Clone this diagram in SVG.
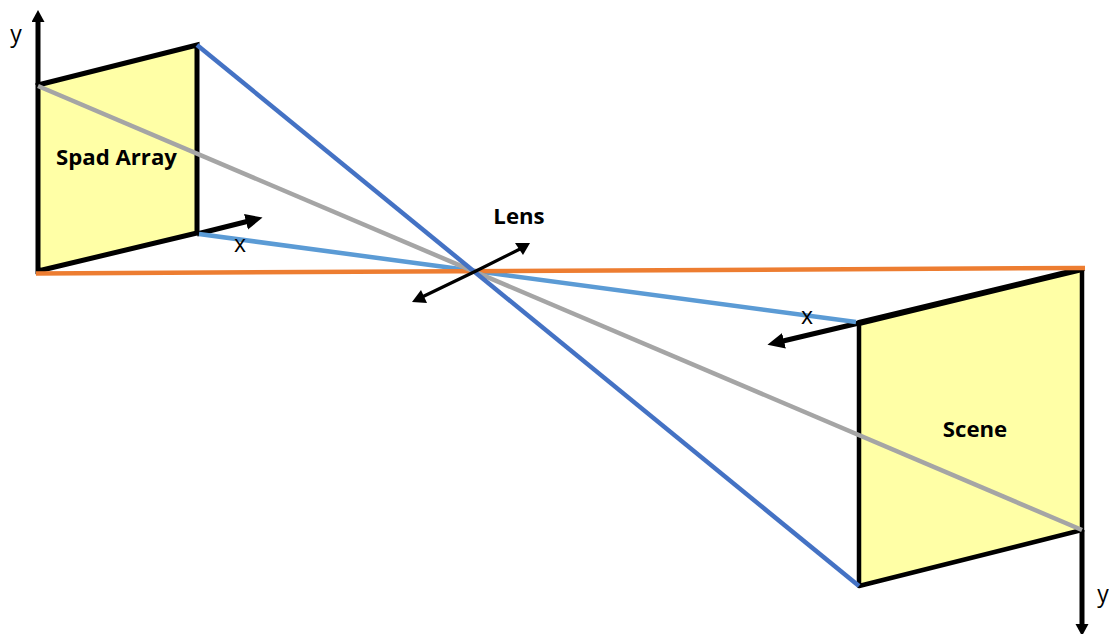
<svg xmlns="http://www.w3.org/2000/svg" width="1109" height="634" viewBox="0 0 1109 634">
<style>
.panel{fill:#ffffa6;stroke:none}
.edge{stroke:#000;fill:none;stroke-linecap:round}
.ray{fill:none;stroke-linecap:butt;stroke-width:4.5}
.axis{stroke:#000;fill:none;stroke-width:5}
.head{fill:#000;stroke:none}
.lab{font-family:"Open Sans","Liberation Sans",sans-serif;font-size:23px;fill:#000}
.b{font-weight:700;font-size:22.2px}
</style>
<defs>
<marker id="a" markerUnits="userSpaceOnUse" markerWidth="20" markerHeight="18" refX="1" refY="8" orient="auto"><path d="M0 0L17 8L0 16Z" fill="#000"/></marker>
<marker id="t" markerUnits="userSpaceOnUse" markerWidth="15" markerHeight="15" refX="1" refY="6.500" orient="auto"><path d="M0 0L12 6.500L0 13Z" fill="#000"/></marker>
</defs>
<g id="spad-array">
<polygon class="panel" points="38,85 197,45 197,233 38,271"/>
<path class="edge" stroke-width="5" d="M38 85L197 45L197 233L38 271Z"/>
<text class="lab b" x="116.500" y="165" text-anchor="middle">Spad Array</text>
</g>
<g id="scene">
<polygon class="panel" points="859,323 1082,269 1082,530 859,586"/>
<path class="edge" stroke-width="4.500" d="M859 586L859 323M1082 269L1082 530L859 586"/>
<path class="edge" stroke-width="6" d="M859 323L1082 269"/>
<text class="lab b" x="975" y="437" text-anchor="middle">Scene</text>
</g>
<g id="connectors">
<path class="axis" d="M38 85L38 21" marker-end="url(#t)"/>
<path class="axis" d="M197 234L247 221.500" marker-end="url(#a)"/>
<path class="axis" d="M859 323L783 341" marker-end="url(#a)"/>
<path class="axis" d="M1082 530L1082 625" marker-end="url(#t)"/>
<path class="ray" stroke="#5b9bd5" d="M199 234L475 271L856 322"/>
<path class="ray" stroke="#ed7d31" d="M36 273.500L1085 268"/>
<path class="ray" stroke="#a5a5a5" d="M38 86L1082 530"/>
<path class="ray" stroke="#4472c4" d="M197 45L859 586"/>
<path d="M420 298L476 271L522 248" fill="none" stroke="#000" stroke-width="3.200"/>
<path class="head" d="M530 243L515 243L523 255Z"/>
<path class="head" d="M412 302L421 290L427 303Z"/>
</g>
<g id="labels">
<text class="lab" x="16" y="42" text-anchor="middle">y</text>
<text class="lab" x="240" y="252" text-anchor="middle">x</text>
<text class="lab b" x="519" y="224" text-anchor="middle">Lens</text>
<text class="lab" x="807" y="324" text-anchor="middle">x</text>
<text class="lab" x="1103" y="602" text-anchor="middle">y</text>
</g>
</svg>
